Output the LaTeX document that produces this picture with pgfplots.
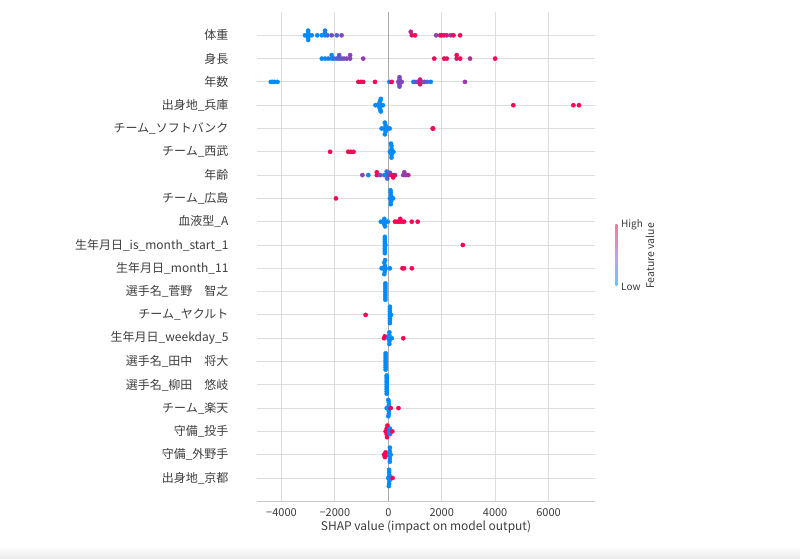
\documentclass[border=0pt]{standalone}
\usepackage{fontspec}
\setmainfont{Noto Sans CJK JP}
\usepackage{pgfplots}
\pgfplotsset{compat=1.18}
\definecolor{txt}{RGB}{60,60,60}
\definecolor{gridc}{RGB}{222,222,222}
\definecolor{spinec}{RGB}{200,200,200}
\definecolor{shapblue}{RGB}{0,139,251}
\definecolor{shappurple}{RGB}{128,72,192}
\definecolor{shapred}{RGB}{255,0,82}
\pgfplotsset{shapdots/.style={only marks, mark=*, mark size=2.1pt, scatter, point meta=explicit, scatter/use mapped color={draw=mapped color, fill=mapped color}}}
\begin{document}
\begin{tikzpicture}[x=1pt,y=1pt]
\path[use as bounding box] (0,0) rectangle (800,559);
\shade[top color=white, bottom color=black!8] (0,0) rectangle (800,13);
\begin{axis}[
  at={(257pt,57.7pt)}, anchor=south west,
  scale only axis, width=338pt, height=489.3pt,
  xmin=-4917, xmax=7740, ymin=-1, ymax=20,
  axis x line*=bottom, axis y line*=left,
  y axis line style={draw=none},
  x axis line style={draw=spinec, line width=0.8pt, -},
  major tick length=0pt,
  xtick={-4000,-2000,0,2000,4000,6000},
  xticklabels={−4000,−2000,0,2000,4000,6000},
  ytick={0,...,19},
  yticklabels={出身地\_京都,守備\_外野手,守備\_投手,チーム\_楽天,選手名\_柳田　悠岐,選手名\_田中　将大,生年月日\_weekday\_5,チーム\_ヤクルト,選手名\_菅野　智之,生年月日\_month\_11,生年月日\_is\_month\_start\_1,血液型\_A,チーム\_広島,年齢,チーム\_西武,チーム\_ソフトバンク,出身地\_兵庫,年数,身長,体重},
  yticklabel style={font=\fontsize{12}{14}\selectfont, text=txt, anchor=east, xshift=-25pt},
  xticklabel style={font=\fontsize{11}{13}\selectfont, text=txt, yshift=-4pt},
  xlabel={SHAP value (impact on model output)},
  xlabel style={font=\fontsize{12}{14}\selectfont, text=txt, at={(axis description cs:0.5,0)}, anchor=center, yshift=-26pt},
  grid=major, grid style={line width=0.8pt, gridc},
  colormap={shap}{rgb255=(0,139,251) rgb255=(128,72,192) rgb255=(255,0,82)},
  point meta min=0, point meta max=1,
  clip=false,
]
\addplot[gray!65, line width=1.4pt, forget plot] coordinates {(0,-1) (0,20)};
% 体重
\addplot[shapdots] table[meta=c] {
x y c
-3120 19 0
-3000 19 0
-3000 19.1 0
-3000 18.9 0
-3000 19.2 0
-3000 18.8 0
-2870 19 0
-2660 19 0
-2490 19 0
-2370 19 0
-2370 19.1 0
-2370 19.2 0.1
-2280 19 0.2
-2120 19 0.45
-1930 19 0.3
-1750 19 0.5
840 19.15 0.75
880 19 0.9
1000 19 1
1790 19 0.55
1940 19 0.85
2000 19 1
2090 19 0.9
2190 19 0.8
2340 19 0.6
2440 19 1
2690 19 1
};
% 身長
\addplot[shapdots] table[meta=c] {
x y c
-2490 18 0
-2370 18 0
-2250 18 0.1
-2120 18 0
-2120 18.15 0
-2030 18 0.2
-1930 18 0.3
-1840 18 0.35
-1840 18.15 0.4
-1750 18 0.4
-1660 18 0.45
-1560 18 0.5
-1430 18 0.5
-1430 18.15 0.55
-940 18 0.6
1720 18 1
2090 18 1
2190 18 0.9
2560 18 0.85
2560 18.15 1
2690 18 1
3060 18 0.7
4000 18 1
};
% 年数
\addplot[shapdots] table[meta=c] {
x y c
-4400 17 0
-4330 17 0
-4250 17 0
-4150 17 0
-1120 17 1
-1030 17 1
-940 17 0.9
-500 17 1
40 17 0.1
130 17 1
375 17 0.5
420 16.8 0.4
420 17.2 0.5
420 17.1 0.45
420 16.9 0.5
470 17 0.6
500 17 0.5
940 17 0.1
1030 17 0.4
1100 17 0.5
1190 17 0.8
1190 17.1 0.9
1190 16.9 0.85
1250 17 0.7
1350 17 0.5
1450 17 0.3
1590 17 0.05
2870 17 0.6
};
% 出身地_兵庫
\addplot[shapdots] table[meta=c] {
x y c
-480 16 0
-400 16 0
-330 16 0
-250 16 0
-200 16 0
-330 16.1 0
-330 15.9 0
-300 16.2 0
-300 15.8 0
-280 16.27 0
-280 15.73 0
4680 16 1
6930 16 1
7140 16 1
};
% チーム_ソフトバンク
\addplot[shapdots] table[meta=c] {
x y c
-250 15 0
-150 15 0
-100 15 0
50 15 0
-100 15.12 0
-100 14.88 0
-130 15.25 0
-130 14.75 0
-20 15 0
1660 15 1
1680 15 1
};
% チーム_西武
\addplot[shapdots] table[meta=c] {
x y c
-2180 14 1
-1500 14 1
-1400 14 1
-1300 14 1
60 14 0
120 14 0
190 14 0
120 14.12 0
120 13.88 0
120 14.25 0
120 13.75 0
100 14.35 0
};
% 年齢
\addplot[shapdots] table[meta=c] {
x y c
-970 13 0.55
-750 13 0.1
-430 13 0.9
-430 13.12 1
-310 13 0.5
-150 13 0.3
-80 13 0
-60 13.15 0.2
-40 12.85 0.3
20 13 0.6
60 13.1 0.4
130 13 1
180 13 0.9
250 13 0.9
180 12.9 1
560 13 0.6
650 13 0.5
750 13 0.7
600 13.12 0.6
};
% チーム_広島
\addplot[shapdots] table[meta=c] {
x y c
-1960 12 1
60 12 0
120 12 0
180 12 0
100 12.12 0
100 11.88 0
90 12.25 0
90 11.75 0
80 12.35 0
};
% 血液型_A
\addplot[shapdots] table[meta=c] {
x y c
-280 11 0
-180 11 0
-100 11 0
-20 11 0
-150 11.12 0
-150 10.88 0
-120 10.8 0
250 11 1
330 11 1
400 11 1
450 11.12 1
500 11 1
590 11 1
880 11 1
1100 11 1
};
% is_month_start_1
\addplot[shapdots] table[meta=c] {
x y c
-130 9.65 0
-130 9.75 0
-130 9.85 0
-130 9.95 0
-130 10.05 0
-130 10.15 0
-130 10.25 0
-130 10.35 0
-110 10 0
2790 10 1
};
% month_11
\addplot[shapdots] table[meta=c] {
x y c
-250 9 0
-180 9 0
-100 9 0
60 9 0
-130 9.12 0
-130 8.88 0
-150 9.25 0
-150 8.75 0
-120 9.35 0
530 9 1
590 9 1
880 9 1
};
% 菅野
\addplot[shapdots] table[meta=c] {
x y c
-110 7.65 0
-110 7.75 0
-110 7.85 0
-110 7.95 0
-110 8.05 0
-110 8.15 0
-110 8.25 0
-110 8.35 0
};
% ヤクルト
\addplot[shapdots] table[meta=c] {
x y c
-850 7 1
60 6.65 0
60 6.75 0
60 6.85 0
60 6.95 0
60 7.05 0
60 7.15 0
60 7.25 0
60 7.35 0
100 7 0
};
% weekday_5
\addplot[shapdots] table[meta=c] {
x y c
-160 6 1
-130 6.08 1
0 6 0
60 6 0
130 6 0
40 6.12 0
40 5.88 0
40 6.25 0
40 5.75 0
560 6 1
};
% 田中
\addplot[shapdots] table[meta=c] {
x y c
-100 4.65 0
-100 4.75 0
-100 4.85 0
-100 4.95 0
-100 5.05 0
-100 5.15 0
-100 5.25 0
-100 5.35 0
};
% 柳田
\addplot[shapdots] table[meta=c] {
x y c
-60 3.62 0
-60 3.72 0
-60 3.82 0
-60 3.92 0
-60 4.02 0
-60 4.12 0
-60 4.22 0
-60 4.32 0
-60 4.4 0
};
% 楽天
\addplot[shapdots] table[meta=c] {
x y c
-60 3 0
0 3 0
60 3 0
20 3.12 0
20 2.88 0
20 3.25 0
20 2.75 0
0 3.35 0
0 2.65 0
90 3 1
380 3 1
};
% 投手
\addplot[shapdots] table[meta=c] {
x y c
-100 2 1
-60 2.12 1
-60 1.88 1
-30 2.25 1
-50 1.75 1
30 2 0
100 2 0
60 2.12 0
60 1.88 0
150 2 1
};
% 外野手
\addplot[shapdots] table[meta=c] {
x y c
-160 1 1
-130 0.9 1
-100 1.1 1
-40 1 1
30 1 0
90 1 0
60 1.15 0
60 0.85 0
60 1.3 0
60 0.7 0
};
% 京都
\addplot[shapdots] table[meta=c] {
x y c
0 0 0
60 0 0
120 0 0
40 0.12 0
40 -0.12 0
30 0.25 0
30 -0.25 0
30 0.35 0
20 -0.35 0
160 0 1
};
\end{axis}
% colour bar
\shade[top color=shapred!55, bottom color=shapblue!55, middle color=shappurple!50] (615.3,273) rectangle (617.3,334);
\node[anchor=west, font=\fontsize{10}{12}\selectfont, text=txt, inner sep=0pt] at (621,334) {High};
\node[anchor=west, font=\fontsize{10}{12}\selectfont, text=txt, inner sep=0pt] at (621,272) {Low};
\node[rotate=90, font=\fontsize{10.5}{12}\selectfont, text=txt, inner sep=0pt] at (650,303) {Feature value};
\end{tikzpicture}
\end{document}
